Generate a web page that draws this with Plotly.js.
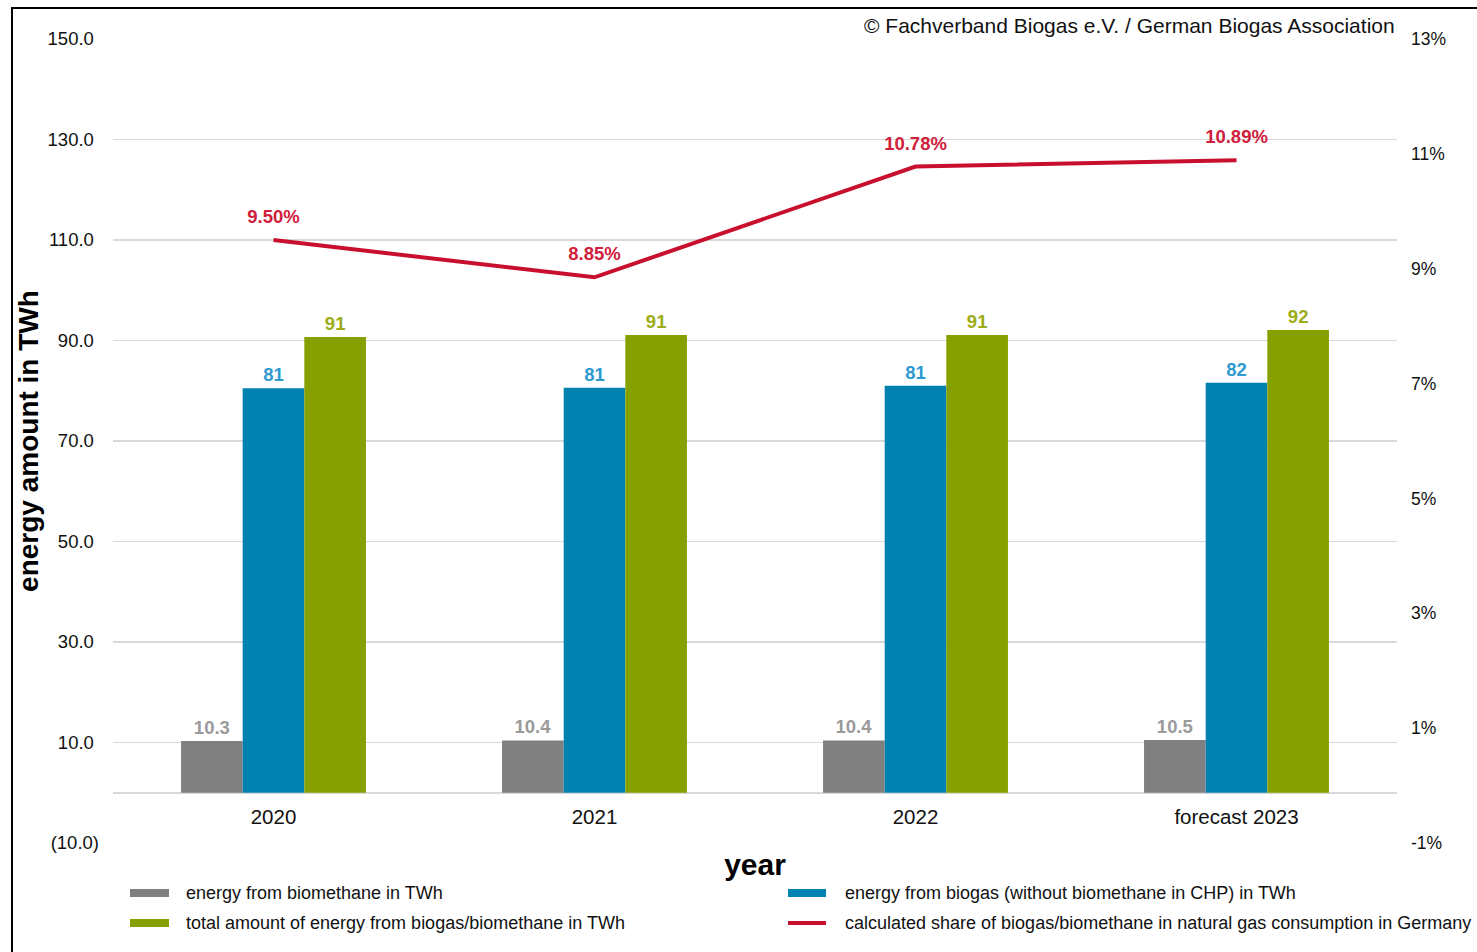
<!DOCTYPE html>
<html>
<head>
<meta charset="utf-8">
<script src="https://cdn.plot.ly/plotly-3.0.1.min.js"></script>
<style>
  html, body { margin: 0; padding: 0; background: #fff; overflow: hidden; }
  #frame { position: absolute; left: 11px; top: 7px; width: 1600px; height: 1100px;
           border-top: 2px solid #000; border-left: 2px solid #000; pointer-events: none; z-index: 5; }
  #chart { position: absolute; left: 0; top: 0; width: 1477px; height: 952px; }
</style>
</head>
<body>
<div id="chart"></div>
<div id="frame"></div>
<script>
// ---- data ----
const years = ['2020', '2021', '2022', 'forecast 2023'];
const biomethaneTWh = [10.3, 10.4, 10.4, 10.5];
const biogasCHPTWh = [80.5, 80.6, 81.0, 81.6];
const totalTWh = [90.7, 91.1, 91.1, 92.1];
const sharePct = [9.50, 8.85, 10.78, 10.89];

const seriesNames = [
  'energy from biomethane in TWh',
  'energy from biogas (without biomethane in CHP) in TWh',
  'total amount of energy from biogas/biomethane in TWh',
  'calculated share of biogas/biomethane in natural gas consumption in Germany'
];

const leftTickVals = [-10, 10, 30, 50, 70, 90, 110, 130, 150];
const leftTickText = ['(10.0)', '10.0\u2008', '30.0\u2008', '50.0\u2008', '70.0\u2008', '90.0\u2008', '110.0\u2008', '130.0\u2008', '150.0\u2008'];
const rightTickVals = [-1, 1, 3, 5, 7, 9, 11, 13];
const rightTickText = ['-1%', '1%', '3%', '5%', '7%', '9%', '11%', '13%'];

const copyrightText = '© Fachverband Biogas e.V. / German Biogas Association';
const yTitle = 'energy amount in TWh';
const xTitle = 'year';

// ---- styles ----
const FONT = 'Liberation Sans, Arial, sans-serif';
const colors = ['#808080', '#0082b0', '#86a000', '#c8102e'];
const labelColors = ['#9a9a9a', '#2e9ad0', '#9cac18', '#d0203c'];

const W = 1477, H = 952;
const M = {l: 113, r: 80, t: 39, b: 109};
const PW = W - M.l - M.r, PH = H - M.t - M.b;
const px = x => (x - M.l) / PW;
const py = y => (H - M.b - y) / PH;

const barTraces = [biomethaneTWh, biogasCHPTWh, totalTWh].map((vals, i) => ({
  type: 'bar',
  name: seriesNames[i],
  x: years,
  y: vals,
  marker: {color: colors[i]},
  texttemplate: i === 0 ? '%{y:.1f}' : '%{y:.0f}',
  textposition: 'outside',
  cliponaxis: false,
  textfont: {family: FONT, size: 18.5, color: labelColors[i], weight: 'bold'},
  showlegend: false,
  hoverinfo: 'x+y'
}));

const lineTrace = {
  type: 'scatter',
  name: seriesNames[3],
  x: years,
  y: sharePct,
  yaxis: 'y2',
  mode: 'lines+markers+text',
  line: {color: colors[3], width: 4},
  marker: {size: 18, color: 'rgba(0,0,0,0)'},
  texttemplate: '%{y:.2f}%',
  textposition: 'top center',
  cliponaxis: false,
  textfont: {family: FONT, size: 18.5, color: labelColors[3], weight: 'bold'},
  showlegend: false
};

// custom legend (wide swatches like the original)
const legendSpots = [
  {sx0: 130, sx1: 169, tx: 184, y: 893},
  {sx0: 788, sx1: 826, tx: 843, y: 893},
  {sx0: 130, sx1: 169, tx: 184, y: 923},
  {sx0: 788, sx1: 826, tx: 843, y: 923}
];
const shapes = [];
const annotations = [];
legendSpots.forEach((s, i) => {
  if (i < 3) {
    shapes.push({type: 'rect', xref: 'paper', yref: 'paper',
      x0: px(s.sx0), x1: px(s.sx1), y0: py(s.y + 4), y1: py(s.y - 4),
      fillcolor: colors[i], line: {width: 0}});
  } else {
    shapes.push({type: 'line', xref: 'paper', yref: 'paper',
      x0: px(s.sx0), x1: px(s.sx1), y0: py(s.y), y1: py(s.y),
      line: {color: colors[i], width: 4}});
  }
  annotations.push({xref: 'paper', yref: 'paper', x: px(s.tx), y: py(s.y),
    xanchor: 'left', yanchor: 'middle', showarrow: false, text: seriesNames[i],
    font: {family: FONT, size: 18, color: '#111'}});
});
annotations.push({xref: 'paper', yref: 'paper', x: 1, y: 1, xanchor: 'right', yanchor: 'bottom',
  showarrow: false, text: copyrightText, font: {family: FONT, size: 21, color: '#111'}});

const layout = {
  width: W, height: H, autosize: false,
  margin: M,
  paper_bgcolor: 'rgba(0,0,0,0)', plot_bgcolor: 'rgba(0,0,0,0)',
  font: {family: FONT, color: '#000'},
  barmode: 'group',
  bargap: 0.424,
  bargroupgap: 0,
  showlegend: false,
  xaxis: {
    type: 'category', anchor: 'free', position: 0.0625,
    showline: false, showgrid: false, zeroline: false, ticks: '',
    tickfont: {family: FONT, size: 20.5, color: '#111'},
    ticklabelstandoff: 10,
    title: {text: xTitle, font: {family: FONT, size: 30, weight: 'bold', color: '#000'}, standoff: 26},
    automargin: false
  },
  yaxis: {
    range: [-10, 150], tickvals: leftTickVals, ticktext: leftTickText,
    showgrid: true, gridcolor: '#d9d9d9', gridwidth: 1.5,
    zeroline: true, zerolinecolor: '#d9d9d9', zerolinewidth: 2,
    showline: false, ticks: '',
    tickfont: {family: FONT, size: 18.5, color: '#111'},
    ticklabelstandoff: 13,
    title: {text: yTitle, font: {family: FONT, size: 28, weight: 'bold', color: '#000'}, standoff: 0},
    automargin: false
  },
  yaxis2: {
    overlaying: 'y', side: 'right', range: [-1, 13], tickvals: rightTickVals, ticktext: rightTickText,
    showgrid: false, zeroline: false, showline: false, ticks: '',
    tickfont: {family: FONT, size: 17.5, color: '#111'},
    ticklabelstandoff: 13,
    automargin: false
  },
  shapes: shapes,
  annotations: annotations
};

Plotly.newPlot('chart', [...barTraces, lineTrace], layout, {displayModeBar: false, staticPlot: true});
</script>
</body>
</html>
